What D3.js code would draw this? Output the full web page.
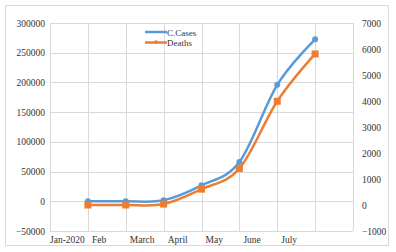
<!DOCTYPE html>
<html>
<head>
<meta charset="utf-8">
<script src="https://cdn.jsdelivr.net/npm/d3@7"></script>
<style>
  body { margin: 0; background: #fff; }
  text { font-family: "Liberation Serif", "Times New Roman", serif; fill: #333; }
</style>
</head>
<body>
<div class="chart"></div>
<script>
// data
const monthLabels = ['Jan-2020', 'Feb', 'March', 'April', 'May', 'June', 'July'];
const pointIndex = [1, 2, 3, 4, 5, 6, 7];
const cases = [0, 0, 1700, 26800, 66000, 196000, 272500];
const deaths = [0, 0, 35, 610, 1400, 3990, 5810];
const leftTicks = [-50000, 0, 50000, 100000, 150000, 200000, 250000, 300000];
const rightTicks = [-1000, 0, 1000, 2000, 3000, 4000, 5000, 6000, 7000];

const W = 396, H = 252;
const margin = ({top: 23, right: 43, bottom: 21, left: 50});
const width = W - margin.left - margin.right;
const height = H - margin.top - margin.bottom;

const svg = d3.select('.chart')
  .append('svg')
  .attr('width', W)
  .attr('height', H);

// outer chart border
svg.append('rect')
  .attr('x', 5.5).attr('y', 5.5)
  .attr('width', 383).attr('height', 240)
  .attr('fill', 'none')
  .attr('stroke', '#d9d9d9');

const g = svg.append('g')
  .attr('transform', `translate(${margin.left},${margin.top})`);

const xScale = d3.scaleLinear().domain([0, 8]).range([0, width]);
const yLeft = d3.scaleLinear().domain([-50000, 300000]).range([height, 0]);
const yRight = d3.scaleLinear().domain([-1000, 7000]).range([height, 0]);

// grid
g.append('g')
  .selectAll('line')
  .data(leftTicks)
  .join('line')
  .attr('x1', 0).attr('x2', width)
  .attr('y1', d => Math.round(yLeft(d)) + 0.5)
  .attr('y2', d => Math.round(yLeft(d)) + 0.5)
  .attr('stroke', '#d9d9d9');

g.append('g')
  .selectAll('line')
  .data(d3.range(0, 9))
  .join('line')
  .attr('x1', d => Math.round(xScale(d)) + 0.5)
  .attr('x2', d => Math.round(xScale(d)) + 0.5)
  .attr('y1', 0).attr('y2', height)
  .attr('stroke', '#d9d9d9');

// left axis
const yAxisL = d3.axisLeft(yLeft).tickValues(leftTicks).tickSize(0).tickPadding(5).tickFormat(d3.format('d'));
g.append('g')
  .call(yAxisL)
  .call(s => s.select('.domain').remove())
  .selectAll('text')
  .attr('font-size', 9.5)
  .attr('font-family', '"Liberation Serif", serif');

// right axis
const yAxisR = d3.axisRight(yRight).tickValues(rightTicks).tickSize(0).tickPadding(9).tickFormat(d3.format('d'));
g.append('g')
  .attr('transform', `translate(${width},0)`)
  .call(yAxisR)
  .call(s => s.select('.domain').remove())
  .selectAll('text')
  .attr('font-size', 9.5)
  .attr('font-family', '"Liberation Serif", serif');

// month labels
g.append('g')
  .selectAll('text')
  .data(monthLabels)
  .join('text')
  .attr('x', (d, i) => xScale(i) + (i == 0 ? 0 : 4))
  .attr('y', height + 12)
  .attr('font-size', 9.5)
  .text(d => d);

// lines
const casesPts = pointIndex.map((d, i) => [xScale(d), yLeft(cases[i])]);
const deathPts = pointIndex.map((d, i) => [xScale(d), yRight(deaths[i])]);
const line = d3.line().curve(d3.curveCardinal);

g.append('path')
  .attr('d', line(casesPts))
  .attr('fill', 'none')
  .attr('stroke', '#5b9bd5')
  .attr('stroke-width', 2.5);

g.selectAll('.cm')
  .data(casesPts)
  .join('circle')
  .attr('class', 'cm')
  .attr('cx', d => d[0]).attr('cy', d => d[1])
  .attr('r', 3)
  .attr('fill', '#5b9bd5');

g.append('path')
  .attr('d', line(deathPts))
  .attr('fill', 'none')
  .attr('stroke', '#ed7d31')
  .attr('stroke-width', 2.5);

g.selectAll('.dm')
  .data(deathPts)
  .join('rect')
  .attr('class', 'dm')
  .attr('x', d => d[0] - 3.5).attr('y', d => d[1] - 3.5)
  .attr('width', 7).attr('height', 7)
  .attr('fill', '#ed7d31');

// legend
const legend = svg.append('g').attr('transform', 'translate(145,32)');
const items = [['C.Cases', '#5b9bd5'], ['Deaths', '#ed7d31']];
items.forEach((it, i) => {
  const row = legend.append('g').attr('transform', `translate(0,${i * 10.5})`);
  row.append('line')
    .attr('x1', 0).attr('x2', 22)
    .attr('stroke', it[1]).attr('stroke-width', 2.5);
  if (i == 1) {
    row.append('rect').attr('x', 9.5).attr('y', -2).attr('width', 3).attr('height', 3).attr('fill', it[1]);
  }
  row.append('text')
    .attr('x', 22).attr('y', 3.5)
    .attr('font-size', 9)
    .text(it[0]);
});
</script>
</body>
</html>
